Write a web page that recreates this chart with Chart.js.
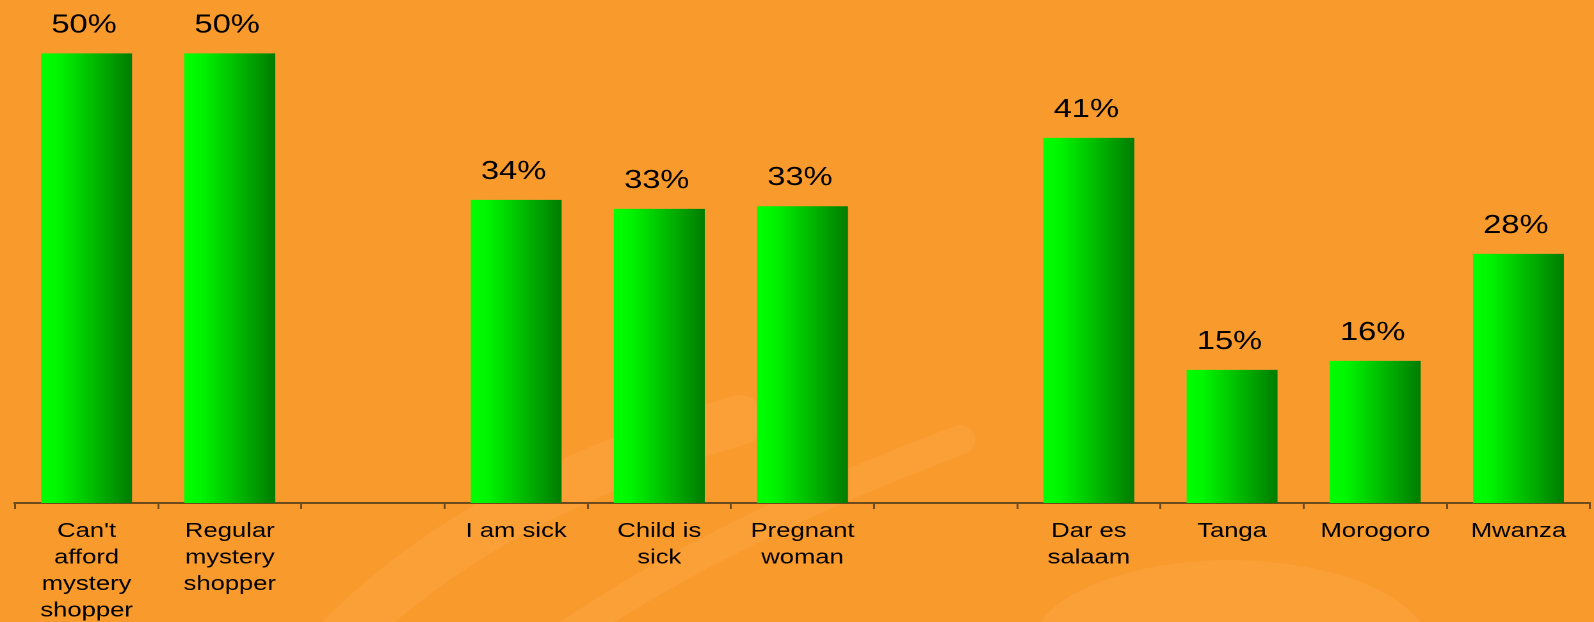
<!DOCTYPE html>
<html>
<head>
<meta charset="utf-8">
<script src="https://cdn.jsdelivr.net/npm/chart.js@4/dist/chart.umd.min.js"></script>
<style>
  html, body { margin: 0; padding: 0; background: #f99a2d; overflow: hidden; }
  /* the slide was drawn at 4:3-ish width and stretched out horizontally */
  #wrap {
    position: absolute; left: 0; top: 0;
    width: 1245px; height: 622px;
    transform: scaleX(1.2803);
    transform-origin: 0 0;
  }
</style>
</head>
<body>
<div id="wrap"><canvas id="visits-chart"></canvas></div>
<script>
const CATEGORIES = [
    ["Can't", 'afford', 'mystery', 'shopper'],
    ['Regular', 'mystery', 'shopper'],
    '',
    'I am sick',
    ['Child is', 'sick'],
    ['Pregnant', 'woman'],
    '',
    ['Dar es', 'salaam'],
    'Tanga',
    'Morogoro',
    'Mwanza'
];
const SHARE = [50.0, 50.0, null, 33.7, 32.7, 33.0, null, 40.6, 14.8, 15.8, 27.7];

const STRETCH = 1594 / 1245;
const BAR_PCT = 0.635;
const FONT = '"Liberation Sans", Arial, Helvetica, sans-serif';
const AXIS_COLOR = '#6e4a1c';

// orange slide background with the faint lighter watermark swirls
const slideBackground = {
    id: 'slideBackground',
    beforeDraw(chart) {
        const { ctx, width, height } = chart;
        ctx.save();
        ctx.fillStyle = '#f99a2d';
        ctx.fillRect(0, 0, width, height);
        ctx.scale(1 / STRETCH, 1);
        ctx.strokeStyle = 'rgba(255, 185, 95, 0.2)';
        ctx.fillStyle = 'rgba(255, 185, 95, 0.2)';
        ctx.lineCap = 'round';

        ctx.lineWidth = 50;
        ctx.beginPath();
        ctx.moveTo(330, 650);
        ctx.quadraticCurveTo(470, 500, 740, 420);
        ctx.stroke();

        ctx.lineWidth = 30;
        ctx.beginPath();
        ctx.moveTo(560, 640);
        ctx.quadraticCurveTo(720, 530, 960, 440);
        ctx.stroke();

        ctx.beginPath();
        ctx.ellipse(1230, 650, 200, 90, 0, Math.PI, 2 * Math.PI);
        ctx.fill();
        ctx.restore();
    }
};

// percentage above each bar
const valueLabels = {
    id: 'valueLabels',
    afterDatasetsDraw(chart) {
        const { ctx } = chart;
        const meta = chart.getDatasetMeta(0);
        ctx.save();
        ctx.font = `25.5px ${FONT}`;
        ctx.fillStyle = '#000';
        ctx.textAlign = 'center';
        ctx.textBaseline = 'alphabetic';
        meta.data.forEach((bar, i) => {
            const v = SHARE[i];
            if (v == null) return;
            ctx.fillText(`${Math.round(v)}%`, bar.x - 2, bar.y - 21);
        });
        ctx.restore();
    }
};

const barGradient = (c) => {
    const chart = c.chart;
    const xs = chart.scales.x;
    if (!chart.chartArea || !xs || c.dataIndex == null) return '#00c000';
    const cx = xs.getPixelForValue(c.dataIndex);
    const half = (xs.width / CATEGORIES.length) * BAR_PCT / 2;
    const g = chart.ctx.createLinearGradient(cx - half, 0, cx + half, 0);
    g.addColorStop(0, '#00ff00');
    g.addColorStop(0.18, '#00f600');
    g.addColorStop(1, '#007c00');
    return g;
};

const ctx = document.getElementById('visits-chart').getContext('2d');
new Chart(ctx, {
    type: 'bar',
    data: {
        labels: CATEGORIES,
        datasets: [{
            data: SHARE,
            backgroundColor: barGradient,
            borderWidth: 0,
            barPercentage: BAR_PCT,
            categoryPercentage: 1
        }]
    },
    options: {
        responsive: true,
        maintainAspectRatio: false,
        devicePixelRatio: 2,
        animation: false,
        layout: { padding: { left: 11.7, right: 3.1, top: 53.3, bottom: 0 } },
        plugins: {
            legend: { display: false },
            tooltip: { enabled: false }
        },
        scales: {
            y: { display: false, min: 0, max: 50 },
            x: {
                offset: true,
                grid: {
                    offset: true,
                    drawOnChartArea: false,
                    drawTicks: true,
                    tickLength: 6,
                    color: AXIS_COLOR,
                    lineWidth: 1.5
                },
                border: { display: true, color: AXIS_COLOR, width: 2 },
                ticks: {
                    autoSkip: false,
                    maxRotation: 0,
                    color: '#000',
                    padding: 9,
                    font: { family: FONT, size: 20, lineHeight: '26.5px' }
                },
                afterFit: (scale) => { scale.height = 119; }
            }
        }
    },
    plugins: [slideBackground, valueLabels]
});
</script>
</body>
</html>
